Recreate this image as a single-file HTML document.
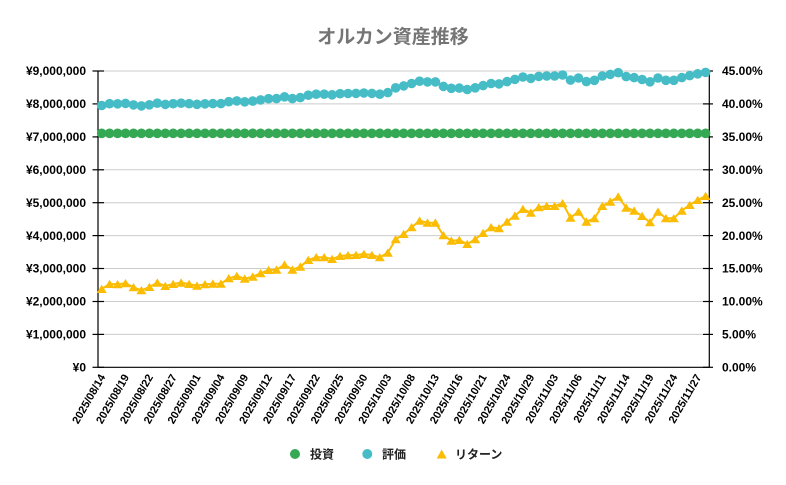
<!DOCTYPE html>
<html><head><meta charset="utf-8"><style>
html,body{margin:0;padding:0;background:#fff;}
svg{display:block;}
text{font-family:"Liberation Sans","Noto Sans CJK JP",sans-serif;}
</style></head><body>
<svg width="786" height="485" viewBox="0 0 786 485" xmlns="http://www.w3.org/2000/svg">
<defs>
<marker id="mg" markerUnits="userSpaceOnUse" viewBox="0 0 10 10" refX="5" refY="5" markerWidth="10" markerHeight="10" overflow="visible"><circle cx="5" cy="5" r="4.8" fill="#34A853"/></marker>
<marker id="mt" markerUnits="userSpaceOnUse" viewBox="0 0 10 10" refX="5" refY="5" markerWidth="10" markerHeight="10" overflow="visible"><circle cx="5" cy="5" r="4.8" fill="#46BDC6"/></marker>
<marker id="my" markerUnits="userSpaceOnUse" viewBox="0 0 10 10" refX="5" refY="5.3" markerWidth="10" markerHeight="10" overflow="visible"><polygon points="0,9.3 5,1 10,9.3" fill="#FBBC04"/></marker>
</defs>
<rect width="786" height="485" fill="#fff"/>
<text x="393" y="43" text-anchor="middle" font-size="19" font-weight="bold" fill="#757575">オルカン資産推移</text>
<g stroke="#cccccc" stroke-width="1">
<line x1="98" y1="71" x2="709" y2="71"/>
<line x1="98" y1="103.9" x2="709" y2="103.9"/>
<line x1="98" y1="136.9" x2="709" y2="136.9"/>
<line x1="98" y1="169.8" x2="709" y2="169.8"/>
<line x1="98" y1="202.7" x2="709" y2="202.7"/>
<line x1="98" y1="235.6" x2="709" y2="235.6"/>
<line x1="98" y1="268.5" x2="709" y2="268.5"/>
<line x1="98" y1="301.5" x2="709" y2="301.5"/>
<line x1="98" y1="334.4" x2="709" y2="334.4"/>
</g>
<g stroke="#000" stroke-width="1.2">
<line x1="98" y1="71" x2="98" y2="367.3"/>
<line x1="709.3" y1="71" x2="709.3" y2="367.3"/>
<line x1="98" y1="367.3" x2="709.3" y2="367.3"/>
<line x1="92.5" y1="71" x2="104" y2="71"/><line x1="703" y1="71" x2="713" y2="71"/>
<line x1="92.5" y1="103.9" x2="104" y2="103.9"/><line x1="703" y1="103.9" x2="713" y2="103.9"/>
<line x1="92.5" y1="136.9" x2="104" y2="136.9"/><line x1="703" y1="136.9" x2="713" y2="136.9"/>
<line x1="92.5" y1="169.8" x2="104" y2="169.8"/><line x1="703" y1="169.8" x2="713" y2="169.8"/>
<line x1="92.5" y1="202.7" x2="104" y2="202.7"/><line x1="703" y1="202.7" x2="713" y2="202.7"/>
<line x1="92.5" y1="235.6" x2="104" y2="235.6"/><line x1="703" y1="235.6" x2="713" y2="235.6"/>
<line x1="92.5" y1="268.5" x2="104" y2="268.5"/><line x1="703" y1="268.5" x2="713" y2="268.5"/>
<line x1="92.5" y1="301.5" x2="104" y2="301.5"/><line x1="703" y1="301.5" x2="713" y2="301.5"/>
<line x1="92.5" y1="334.4" x2="104" y2="334.4"/><line x1="703" y1="334.4" x2="713" y2="334.4"/>
<line x1="92.5" y1="367.3" x2="104" y2="367.3"/><line x1="703" y1="367.3" x2="713" y2="367.3"/>
</g>
<g font-size="12" font-weight="bold" fill="#000" text-anchor="end">
<text x="86" y="75.2">¥9,000,000</text>
<text x="86" y="108.1">¥8,000,000</text>
<text x="86" y="141.1">¥7,000,000</text>
<text x="86" y="174">¥6,000,000</text>
<text x="86" y="206.9">¥5,000,000</text>
<text x="86" y="239.8">¥4,000,000</text>
<text x="86" y="272.7">¥3,000,000</text>
<text x="86" y="305.7">¥2,000,000</text>
<text x="86" y="338.6">¥1,000,000</text>
<text x="86" y="371.5">¥0</text>
</g>
<g font-size="12" font-weight="bold" fill="#000" text-anchor="start">
<text x="722" y="75.2">45.00%</text>
<text x="722" y="108.1">40.00%</text>
<text x="722" y="141.1">35.00%</text>
<text x="722" y="174">30.00%</text>
<text x="722" y="206.9">25.00%</text>
<text x="722" y="239.8">20.00%</text>
<text x="722" y="272.7">15.00%</text>
<text x="722" y="305.7">10.00%</text>
<text x="722" y="338.6">5.00%</text>
<text x="722" y="371.5">0.00%</text>
</g>
<g font-size="11" font-weight="bold" fill="#000" text-anchor="end">
<text transform="translate(105.7,377) rotate(-60)">2025/08/14</text>
<text transform="translate(129.5,377) rotate(-60)">2025/08/19</text>
<text transform="translate(153.4,377) rotate(-60)">2025/08/22</text>
<text transform="translate(177.2,377) rotate(-60)">2025/08/27</text>
<text transform="translate(201,377) rotate(-60)">2025/09/01</text>
<text transform="translate(224.9,377) rotate(-60)">2025/09/04</text>
<text transform="translate(248.7,377) rotate(-60)">2025/09/09</text>
<text transform="translate(272.6,377) rotate(-60)">2025/09/12</text>
<text transform="translate(296.4,377) rotate(-60)">2025/09/17</text>
<text transform="translate(320.2,377) rotate(-60)">2025/09/22</text>
<text transform="translate(344.1,377) rotate(-60)">2025/09/25</text>
<text transform="translate(367.9,377) rotate(-60)">2025/09/30</text>
<text transform="translate(391.8,377) rotate(-60)">2025/10/03</text>
<text transform="translate(415.6,377) rotate(-60)">2025/10/08</text>
<text transform="translate(439.4,377) rotate(-60)">2025/10/13</text>
<text transform="translate(463.3,377) rotate(-60)">2025/10/16</text>
<text transform="translate(487.1,377) rotate(-60)">2025/10/21</text>
<text transform="translate(511,377) rotate(-60)">2025/10/24</text>
<text transform="translate(534.8,377) rotate(-60)">2025/10/29</text>
<text transform="translate(558.6,377) rotate(-60)">2025/11/03</text>
<text transform="translate(582.5,377) rotate(-60)">2025/11/06</text>
<text transform="translate(606.3,377) rotate(-60)">2025/11/11</text>
<text transform="translate(630.2,377) rotate(-60)">2025/11/14</text>
<text transform="translate(654,377) rotate(-60)">2025/11/19</text>
<text transform="translate(677.8,377) rotate(-60)">2025/11/24</text>
<text transform="translate(701.7,377) rotate(-60)">2025/11/27</text>
</g>
<polyline fill="none" stroke="#34A853" stroke-width="2" marker-start="url(#mg)" marker-mid="url(#mg)" marker-end="url(#mg)" points="101.7,133.3 109.6,133.3 117.6,133.3 125.5,133.3 133.5,133.3 141.4,133.3 149.4,133.3 157.3,133.3 165.3,133.3 173.2,133.3 181.1,133.3 189.1,133.3 197.0,133.3 205.0,133.3 212.9,133.3 220.9,133.3 228.8,133.3 236.8,133.3 244.7,133.3 252.7,133.3 260.6,133.3 268.6,133.3 276.5,133.3 284.5,133.3 292.4,133.3 300.3,133.3 308.3,133.3 316.2,133.3 324.2,133.3 332.1,133.3 340.1,133.3 348.0,133.3 356.0,133.3 363.9,133.3 371.9,133.3 379.8,133.3 387.8,133.3 395.7,133.3 403.7,133.3 411.6,133.3 419.6,133.3 427.5,133.3 435.4,133.3 443.4,133.3 451.3,133.3 459.3,133.3 467.2,133.3 475.2,133.3 483.1,133.3 491.1,133.3 499.0,133.3 507.0,133.3 514.9,133.3 522.9,133.3 530.8,133.3 538.8,133.3 546.7,133.3 554.6,133.3 562.6,133.3 570.5,133.3 578.5,133.3 586.4,133.3 594.4,133.3 602.3,133.3 610.3,133.3 618.2,133.3 626.2,133.3 634.1,133.3 642.1,133.3 650.0,133.3 658.0,133.3 665.9,133.3 673.8,133.3 681.8,133.3 689.7,133.3 697.7,133.3 705.6,133.3"/>
<polyline fill="none" stroke="#46BDC6" stroke-width="2" marker-start="url(#mt)" marker-mid="url(#mt)" marker-end="url(#mt)" points="101.7,105.5 109.6,103.7 117.6,103.8 125.5,103.4 133.5,104.9 141.4,105.9 149.4,104.8 157.3,103.2 165.3,104.4 173.2,103.7 181.1,103.2 189.1,103.7 197.0,104.3 205.0,103.8 212.9,103.6 220.9,103.6 228.8,101.7 236.8,100.9 244.7,101.8 252.7,101.1 260.6,99.9 268.6,98.7 276.5,98.6 284.5,96.8 292.4,98.6 300.3,97.6 308.3,95.2 316.2,94.2 324.2,94.2 332.1,94.8 340.1,93.7 348.0,93.5 356.0,93.4 363.9,93.0 371.9,93.4 379.8,94.2 387.8,92.6 395.7,87.8 403.7,85.9 411.6,83.5 419.6,81.2 427.5,81.9 435.4,81.9 443.4,86.4 451.3,88.3 459.3,88.1 467.2,89.5 475.2,87.8 483.1,85.6 491.1,83.5 499.0,83.9 507.0,81.6 514.9,79.4 522.9,77.0 530.8,78.4 538.8,76.4 546.7,76.0 554.6,76.0 562.6,75.0 570.5,80.1 578.5,78.0 586.4,81.6 594.4,80.3 602.3,76.0 610.3,74.4 618.2,72.7 626.2,76.6 634.1,77.6 642.1,79.5 650.0,81.8 658.0,78.0 665.9,80.3 673.8,80.3 681.8,77.6 689.7,75.6 697.7,73.8 705.6,72.4"/>
<polyline fill="none" stroke="#FBBC04" stroke-width="2" marker-start="url(#my)" marker-mid="url(#my)" marker-end="url(#my)" points="101.7,289.0 109.6,284.0 117.6,284.3 125.5,283.3 133.5,287.3 141.4,290.3 149.4,287.0 157.3,282.7 165.3,286.0 173.2,284.0 181.1,282.7 189.1,284.0 197.0,285.7 205.0,284.3 212.9,283.7 220.9,283.7 228.8,278.3 236.8,276.0 244.7,278.7 252.7,276.7 260.6,273.3 268.6,270.0 276.5,269.7 284.5,264.7 292.4,269.7 300.3,266.7 308.3,260 316.2,257.3 324.2,257.3 332.1,259 340.1,256 348.0,255.3 356.0,255 363.9,254 371.9,255 379.8,257.3 387.8,252.7 395.7,239.3 403.7,234 411.6,227.3 419.6,220.7 427.5,222.7 435.4,222.7 443.4,235.3 451.3,240.7 459.3,240 467.2,244 475.2,239.3 483.1,233 491.1,227.3 499.0,228.3 507.0,221.8 514.9,215.7 522.9,209 530.8,212.7 538.8,207.3 546.7,206 554.6,206 562.6,203.3 570.5,217.7 578.5,211.7 586.4,221.7 594.4,218.3 602.3,206 610.3,201.7 618.2,196.7 626.2,207.7 634.1,210.7 642.1,216 650.0,222.3 658.0,211.7 665.9,218.3 673.8,218.3 681.8,210.7 689.7,205 697.7,200 705.6,196"/>
<circle cx="295" cy="454" r="5" fill="#34A853"/>
<text x="310" y="458.5" font-size="12" font-weight="bold" fill="#222">投資</text>
<circle cx="367.3" cy="454" r="5" fill="#46BDC6"/>
<text x="382" y="458.5" font-size="12" font-weight="bold" fill="#222">評価</text>
<polygon points="436.7,458.5 441.7,449.5 446.7,458.5" fill="#FBBC04"/>
<text x="455" y="458.5" font-size="12" font-weight="bold" fill="#222">リターン</text>
</svg>
</body></html>
